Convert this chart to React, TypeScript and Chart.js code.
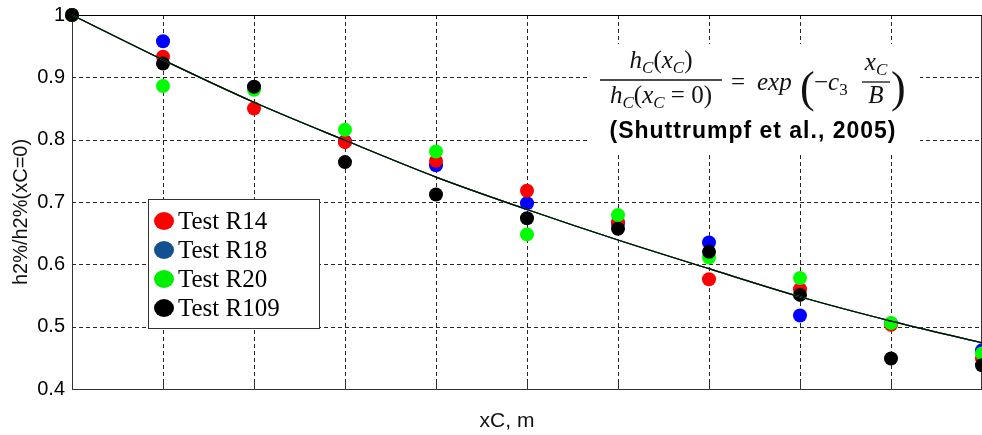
import React, { useEffect, useRef } from "react";
import { Chart, registerables } from "chart.js";

Chart.register(...registerables);

const xPositions = [0, 1, 2, 3, 4, 5, 6, 7, 8, 9, 10];
const yGridValues = [0.4, 0.5, 0.6, 0.7, 0.8, 0.9, 1.0];
const testR14 = [1.0, 0.933, 0.85, 0.796, 0.766, 0.718, 0.668, 0.576, 0.56, 0.503, 0.449];
const testR18 = [1.0, 0.958, 0.884, 0.797, 0.759, 0.698, 0.666, 0.635, 0.518, 0.505, 0.462];
const testR20 = [1.0, 0.886, 0.88, 0.816, 0.781, 0.648, 0.679, 0.611, 0.578, 0.506, 0.457];
const testR109 = [1.0, 0.922, 0.885, 0.764, 0.712, 0.674, 0.657, 0.62, 0.551, 0.449, 0.438];
const fitCurve = [1.0, 0.928, 0.86, 0.799, 0.74, 0.688, 0.639, 0.593, 0.548, 0.509, 0.474];

const legendLabels = ["Test R14", "Test R18", "Test R20", "Test R109"];
const legendColors = ["#ff0000", "#12508f", "#00ee00", "#000000"];
const yTitle = "h2%/h2%(xC=0)";
const xTitle = "xC, m";
const citation = "(Shuttrumpf et al., 2005)";

const toXY = (vals: number[]) => vals.map((v, i) => ({ x: xPositions[i], y: v }));

const SERIF = '"Liberation Serif", serif';
const IT = `italic 25px ${SERIF}`;
const RM = `25px ${SERIF}`;
const SUBIT = `italic 17px ${SERIF}`;
const SUBRM = `17px ${SERIF}`;
const BIG = `44px ${SERIF}`;

type Part = [string, string, number?];

function measure(ctx: CanvasRenderingContext2D, parts: Part[]) {
  let w = 0;
  for (const [t, f] of parts) {
    ctx.font = f;
    w += ctx.measureText(t).width;
  }
  return w;
}
function run(ctx: CanvasRenderingContext2D, x: number, y: number, parts: Part[]) {
  ctx.textAlign = "left";
  ctx.textBaseline = "alphabetic";
  for (const [t, f, dy] of parts) {
    ctx.font = f;
    ctx.fillText(t, x, y + (dy || 0));
    x += ctx.measureText(t).width;
  }
  return x;
}
function centered(ctx: CanvasRenderingContext2D, cx: number, y: number, parts: Part[]) {
  const w = measure(ctx, parts);
  run(ctx, cx - w / 2, y, parts);
}

const overlay = {
  id: "overlay",
  beforeDatasetsDraw(chart: any) {
    const { ctx, chartArea: a } = chart;
    const xs = chart.scales.x;
    const ys = chart.scales.y;
    ctx.save();
    // dashed grid
    ctx.strokeStyle = "rgba(0,0,0,0.85)";
    ctx.lineWidth = 1;
    ctx.setLineDash([4, 3]);
    ctx.beginPath();
    for (const v of xPositions) {
      const px = Math.round(xs.getPixelForValue(v)) + 0.5;
      ctx.moveTo(px, a.top);
      ctx.lineTo(px, a.bottom);
    }
    for (const v of yGridValues) {
      const py = Math.round(ys.getPixelForValue(v)) + 0.5;
      ctx.moveTo(a.left, py);
      ctx.lineTo(a.right, py);
    }
    ctx.stroke();
    ctx.setLineDash([]);
    // white backdrop for formula
    ctx.fillStyle = "#fff";
    ctx.fillRect(588, 44, 332, 108);
    // frame
    ctx.strokeStyle = "#333";
    ctx.lineWidth = 1;
    ctx.strokeRect(a.left + 0.5, a.top + 0.5, a.right - a.left - 1, a.bottom - a.top);
    ctx.beginPath();
    ctx.strokeStyle = "#000";
    ctx.moveTo(a.left, a.top + 0.5);
    ctx.lineTo(a.right, a.top + 0.5);
    ctx.stroke();
    // inner tick marks
    ctx.strokeStyle = "#333";
    ctx.beginPath();
    for (const v of xPositions) {
      const px = Math.round(xs.getPixelForValue(v)) + 0.5;
      ctx.moveTo(px, a.bottom);
      ctx.lineTo(px, a.bottom - 8);
    }
    ctx.stroke();
    // formula
    ctx.fillStyle = "#111";
    ctx.strokeStyle = "#111";
    const num: Part[] = [["h", IT], ["C", SUBIT, 5], ["(", RM], ["x", IT], ["C", SUBIT, 5], [")", RM]];
    const den: Part[] = [["h", IT], ["C", SUBIT, 5], ["(", RM], ["x", IT], ["C", SUBIT, 5], [" = 0)", RM]];
    centered(ctx, 661, 68, num);
    centered(ctx, 661, 103, den);
    ctx.lineWidth = 1.3;
    ctx.beginPath();
    ctx.moveTo(600, 80);
    ctx.lineTo(722, 80);
    ctx.stroke();
    run(ctx, 731, 90, [["=", RM]]);
    run(ctx, 757, 90, [["exp", IT]]);
    run(ctx, 800, 102, [["(", BIG]]);
    run(ctx, 814, 90, [["\u2212", RM], ["c", IT], ["3", SUBRM, 5]]);
    centered(ctx, 876, 70, [["x", IT], ["C", SUBIT, 5]]);
    centered(ctx, 876, 103, [["B", IT]]);
    ctx.beginPath();
    ctx.moveTo(862, 82);
    ctx.lineTo(890, 82);
    ctx.stroke();
    run(ctx, 891, 102, [[")", BIG]]);
    // citation
    ctx.font = 'bold 23px "Liberation Sans"';
    (ctx as any).letterSpacing = "1px";
    ctx.textAlign = "center";
    ctx.fillStyle = "#000";
    ctx.fillText(citation, 753, 138);
    (ctx as any).letterSpacing = "0px";
    ctx.restore();
  },
  afterDraw(chart: any) {
    const { ctx } = chart;
    ctx.save();
    // legend
    ctx.fillStyle = "#fff";
    ctx.fillRect(148.5, 199.5, 171, 129);
    ctx.strokeStyle = "#333";
    ctx.lineWidth = 1;
    ctx.strokeRect(148.5, 199.5, 171, 129);
    legendLabels.forEach((lab, i) => {
      const cy = 221 + i * 29;
      ctx.fillStyle = legendColors[i];
      ctx.beginPath();
      ctx.ellipse(164, cy, 10, 9, 0, 0, Math.PI * 2);
      ctx.fill();
      ctx.fillStyle = "#000";
      ctx.font = `25px ${SERIF}`;
      ctx.textAlign = "left";
      ctx.textBaseline = "alphabetic";
      ctx.fillText(lab, 178, cy + 8);
    });
    // axis titles
    ctx.fillStyle = "#111";
    ctx.font = '20px "Liberation Sans"';
    ctx.textAlign = "center";
    ctx.textBaseline = "middle";
    ctx.translate(21, 212);
    ctx.rotate(-Math.PI / 2);
    ctx.fillText(yTitle, 0, 0);
    ctx.setTransform(1, 0, 0, 1, 0, 0);
    ctx.font = '21px "Liberation Sans"';
    ctx.textBaseline = "alphabetic";
    ctx.fillText(xTitle, 507, 427);
    ctx.restore();
  },
};

export default function App() {
  const ref = useRef<HTMLCanvasElement | null>(null);
  useEffect(() => {
    document.body.style.margin = "0";
    const canvas = ref.current!;
    const lineDs = (color: string) => ({
      type: "line" as const,
      data: toXY(fitCurve),
      borderColor: color,
      borderWidth: 1.2,
      pointRadius: 0,
      showLine: true,
      tension: 0.4,
      cubicInterpolationMode: "monotone" as const,
      fill: false,
      clip: false as any,
    });
    const ptDs = (vals: number[], color: string) => ({
      type: "scatter" as const,
      data: toXY(vals),
      backgroundColor: color,
      borderWidth: 0,
      pointRadius: 7,
      showLine: false,
      clip: false as any,
    });
    const zeroPad = (s: any) => {
      s.paddingLeft = 0;
      s.paddingRight = 0;
      s.paddingTop = 0;
      s.paddingBottom = 0;
    };
    const chart = new Chart(canvas, {
      type: "scatter",
      data: {
        datasets: [
          lineDs("#000000"),
          lineDs("#00ff00"),
          lineDs("#0000ff"),
          lineDs("#ff0000"),
          ptDs(testR109, "#000000"),
          ptDs(testR20, "#00ff00"),
          ptDs(testR14, "#ff0000"),
          ptDs(testR18, "#0000ff"),
        ] as any,
      },
      options: {
        animation: false,
        responsive: false,
        events: [],
        layout: { padding: { top: 15, right: 0, left: 0, bottom: 0 }, autoPadding: false },
        plugins: { legend: { display: false }, tooltip: { enabled: false } },
        scales: {
          x: {
            type: "linear",
            min: 0,
            max: 10,
            ticks: { stepSize: 1, display: false },
            grid: { display: false, drawTicks: false },
            border: { display: false },
            afterFit: (s: any) => {
              s.height = 46;
              zeroPad(s);
            },
          },
          y: {
            type: "linear",
            min: 0.4,
            max: 1.0,
            ticks: {
              stepSize: 0.1,
              padding: 7,
              color: "#000",
              font: { family: '"Liberation Sans", Arial', size: 20 },
              callback: (v: any) => String(Number(Number(v).toFixed(1))),
            },
            grid: { display: false, drawTicks: false },
            border: { display: false },
            afterFit: (s: any) => {
              s.width = 72;
              zeroPad(s);
            },
          },
        },
      },
      plugins: [overlay],
    });
    return () => chart.destroy();
  }, []);
  return (
    <div style={{ width: 982, height: 435 }}>
      <canvas ref={ref} width={982} height={435} style={{ width: 982, height: 435, display: "block" }} />
    </div>
  );
}
